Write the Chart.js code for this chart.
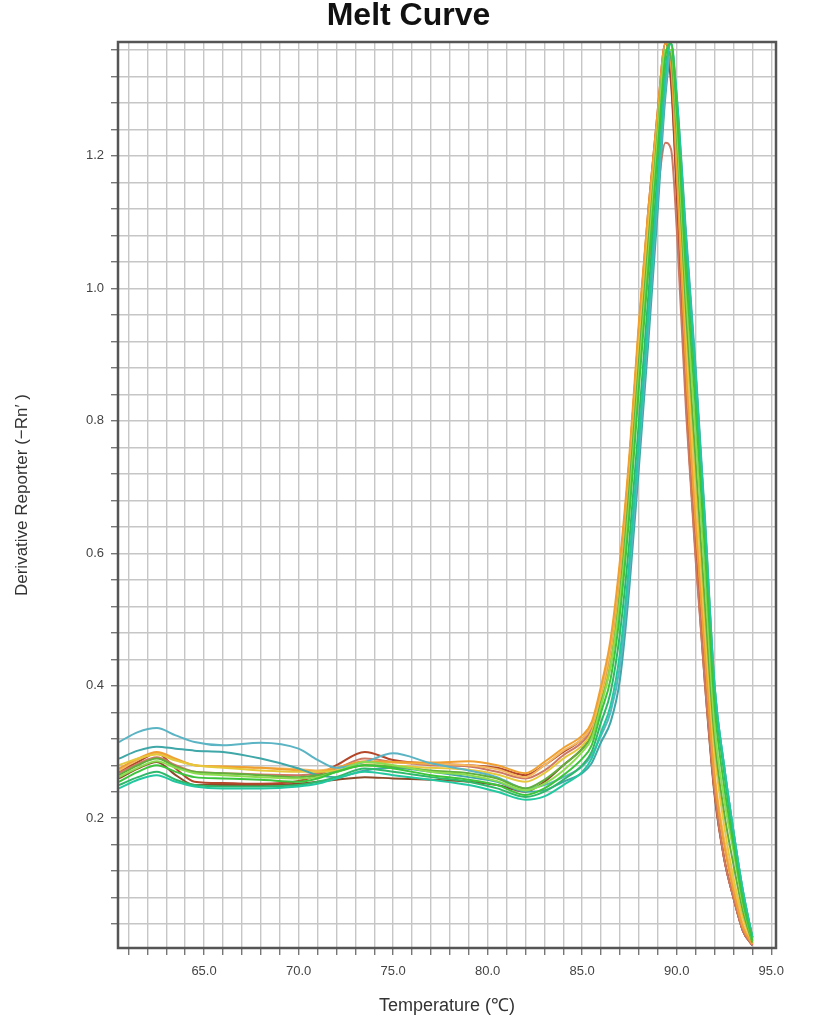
<!DOCTYPE html>
<html>
<head>
<meta charset="utf-8">
<script src="https://cdn.jsdelivr.net/npm/chart.js@4"></script>
<style>
  html, body { margin: 0; padding: 0; background: #fff; }
  #wrap { width: 817px; height: 1024px; }
</style>
</head>
<body>
<div id="wrap"><canvas id="melt" width="817" height="1024"></canvas></div>
<script>
// temperature points (°C)
const temps = [60.5, 61.5, 62.5, 63.5, 64.5, 66, 68, 70, 71, 72, 73.5, 75, 77, 79, 80.5, 82, 83, 84, 85, 85.5,
    86, 86.5, 87, 87.5, 88, 88.5, 89, 89.4, 89.7, 90, 90.5, 91, 91.5, 92, 92.5, 93, 93.5, 94];

// derivative reporter per well
const green = [0.255, 0.27, 0.28, 0.27, 0.262, 0.26, 0.258, 0.255, 0.26, 0.27, 0.28, 0.275, 0.265, 0.258, 0.25, 0.235, 0.245, 0.265, 0.29, 0.31,
    0.36, 0.41, 0.51, 0.66, 0.85, 1.03, 1.21, 1.35, 1.37, 1.27, 1.02, 0.82, 0.60, 0.37, 0.25, 0.16, 0.075, 0.015];
const seaGreen = [0.245, 0.258, 0.265, 0.255, 0.248, 0.245, 0.245, 0.248, 0.252, 0.26, 0.27, 0.265, 0.258, 0.25, 0.24, 0.228, 0.233, 0.25, 0.27, 0.29,
    0.33, 0.37, 0.45, 0.59, 0.77, 0.96, 1.16, 1.32, 1.37, 1.29, 1.07, 0.87, 0.64, 0.40, 0.28, 0.18, 0.09, 0.02];
const green2 = [0.25, 0.262, 0.27, 0.258, 0.25, 0.248, 0.248, 0.25, 0.255, 0.262, 0.275, 0.27, 0.262, 0.255, 0.245, 0.232, 0.24, 0.258, 0.28, 0.30,
    0.345, 0.39, 0.48, 0.62, 0.80, 0.99, 1.18, 1.33, 1.37, 1.28, 1.05, 0.85, 0.62, 0.39, 0.27, 0.17, 0.085, 0.02];
const lightGreen = [0.262, 0.276, 0.286, 0.276, 0.268, 0.265, 0.262, 0.26, 0.262, 0.27, 0.285, 0.28, 0.27, 0.265, 0.256, 0.242, 0.252, 0.272, 0.30, 0.32,
    0.37, 0.43, 0.53, 0.68, 0.87, 1.05, 1.23, 1.36, 1.36, 1.25, 0.99, 0.78, 0.56, 0.34, 0.23, 0.15, 0.07, 0.015];
const oliveGreen = [0.265, 0.28, 0.29, 0.278, 0.27, 0.268, 0.265, 0.262, 0.265, 0.27, 0.28, 0.278, 0.272, 0.268, 0.26, 0.245, 0.258, 0.28, 0.305, 0.325,
    0.375, 0.43, 0.54, 0.70, 0.89, 1.07, 1.24, 1.36, 1.35, 1.23, 0.96, 0.74, 0.52, 0.32, 0.21, 0.13, 0.06, 0.012];
const cyanHigh = [0.315, 0.33, 0.336, 0.325, 0.315, 0.31, 0.314, 0.305, 0.288, 0.276, 0.285, 0.298, 0.283, 0.272, 0.262, 0.245, 0.25, 0.262, 0.278, 0.295,
    0.325, 0.36, 0.43, 0.57, 0.75, 0.94, 1.14, 1.30, 1.36, 1.27, 1.07, 0.87, 0.64, 0.40, 0.28, 0.18, 0.09, 0.02];
const teal = [0.29, 0.302, 0.308, 0.305, 0.302, 0.30, 0.29, 0.275, 0.265, 0.262, 0.272, 0.276, 0.27, 0.262, 0.255, 0.24, 0.242, 0.255, 0.268, 0.283,
    0.315, 0.345, 0.41, 0.55, 0.73, 0.92, 1.12, 1.29, 1.35, 1.29, 1.08, 0.88, 0.65, 0.40, 0.28, 0.18, 0.09, 0.02];
const yellow = [0.28, 0.29, 0.296, 0.287, 0.28, 0.276, 0.272, 0.27, 0.27, 0.272, 0.28, 0.279, 0.276, 0.273, 0.266, 0.255, 0.268, 0.29, 0.31, 0.33,
    0.38, 0.44, 0.55, 0.71, 0.91, 1.09, 1.25, 1.36, 1.36, 1.22, 0.93, 0.70, 0.49, 0.30, 0.19, 0.11, 0.05, 0.012];
const orange = [0.275, 0.29, 0.30, 0.29, 0.28, 0.278, 0.276, 0.272, 0.27, 0.276, 0.286, 0.285, 0.284, 0.286, 0.28, 0.268, 0.285, 0.306, 0.325, 0.345,
    0.40, 0.47, 0.59, 0.75, 0.95, 1.12, 1.27, 1.37, 1.34, 1.18, 0.87, 0.64, 0.44, 0.26, 0.16, 0.09, 0.035, 0.01];
const lightOrange = [0.272, 0.288, 0.298, 0.288, 0.28, 0.278, 0.276, 0.274, 0.272, 0.276, 0.284, 0.284, 0.282, 0.28, 0.274, 0.262, 0.28, 0.302, 0.32, 0.34,
    0.39, 0.46, 0.58, 0.74, 0.94, 1.11, 1.26, 1.36, 1.34, 1.19, 0.89, 0.66, 0.46, 0.27, 0.17, 0.10, 0.04, 0.01];
const pink = [0.268, 0.282, 0.292, 0.28, 0.27, 0.268, 0.266, 0.265, 0.268, 0.275, 0.29, 0.285, 0.28, 0.278, 0.27, 0.26, 0.272, 0.295, 0.315, 0.335,
    0.39, 0.45, 0.56, 0.71, 0.88, 1.03, 1.15, 1.22, 1.21, 1.09, 0.81, 0.59, 0.40, 0.24, 0.14, 0.08, 0.03, 0.008];
const brownRed = [0.27, 0.285, 0.298, 0.275, 0.255, 0.253, 0.252, 0.256, 0.265, 0.28, 0.30, 0.288, 0.282, 0.28, 0.276, 0.265, 0.28, 0.30, 0.32, 0.34,
    0.395, 0.46, 0.58, 0.74, 0.94, 1.12, 1.27, 1.37, 1.32, 1.15, 0.84, 0.61, 0.41, 0.24, 0.14, 0.08, 0.03, 0.008];
const darkBrown = [0.26, 0.275, 0.285, 0.265, 0.25, 0.25, 0.25, 0.252, 0.255, 0.258, 0.262, 0.26, 0.258, 0.255, 0.25, 0.24, 0.255, 0.28, 0.305, 0.325,
    0.38, 0.45, 0.57, 0.73, 0.93, 1.11, 1.26, 1.35, 1.31, 1.14, 0.83, 0.60, 0.40, 0.235, 0.14, 0.08, 0.03, 0.008];

const wells = [green, seaGreen, green2, lightGreen, oliveGreen, cyanHigh, teal, yellow, orange, lightOrange, pink, brownRed, darkBrown];
const wellColors = ["#3cc43c", "#24c8a0", "#2eb86a", "#8cdc50", "#62b03c", "#5ab4c4", "#3fa7a8",
    "#e6c83c", "#f0a030", "#f4b860", "#cc7864", "#b4462a", "#8c4a28"];

// frame round the plot area
const frame = {
    id: "frame",
    afterDraw(chart) {
        const { ctx, chartArea: a } = chart;
        ctx.save();
        ctx.strokeStyle = "#555";
        ctx.lineWidth = 2.5;
        ctx.strokeRect(a.left, a.top, a.right - a.left, a.bottom - a.top);
        ctx.restore();
    },
};

const isMultiple = (v, step) => Math.abs(v / step - Math.round(v / step)) < 1e-6;
const font = "Arial, Liberation Sans";

new Chart(document.getElementById("melt"), {
    type: "line",
    data: {
        datasets: wells.map((w, i) => ({
            data: w.map((v, j) => ({ x: temps[j], y: v })),
            borderColor: wellColors[i],
            borderWidth: 2,
            pointRadius: 0,
            cubicInterpolationMode: "monotone",
        })),
    },
    options: {
        responsive: false,
        animation: false,
        layout: { padding: 0 },
        plugins: {
            legend: { display: false },
            tooltip: { enabled: false },
            title: {
                display: true,
                text: "Melt Curve",
                color: "#111",
                font: { family: font, size: 32, weight: "bold", lineHeight: 1 },
                padding: { top: 0, bottom: 10 },
            },
        },
        scales: {
            x: {
                type: "linear",
                min: 60.45,
                max: 95.25,
                afterFit: (s) => { s.height = 76; },
                grid: { color: "#c6c6c6", lineWidth: 1.4, tickLength: 7, tickColor: "#777" },
                border: { display: false },
                ticks: {
                    stepSize: 1,
                    includeBounds: false,
                    autoSkip: false,
                    maxRotation: 0,
                    padding: 9,
                    color: "#444",
                    font: { family: font, size: 13 },
                    callback: (v) => (isMultiple(v, 5) ? v.toFixed(1) : ""),
                },
                title: {
                    display: true,
                    text: "Temperature (℃)",
                    color: "#333",
                    font: { family: font, size: 18 },
                    padding: { top: 0, bottom: 7 },
                },
            },
            y: {
                min: 0.004,
                max: 1.372,
                afterFit: (s) => { s.width = 118; },
                grid: { color: "#c6c6c6", lineWidth: 1.4, tickLength: 7, tickColor: "#777" },
                border: { display: false },
                ticks: {
                    stepSize: 0.04,
                    includeBounds: false,
                    autoSkip: false,
                    padding: 7,
                    color: "#444",
                    font: { family: font, size: 13 },
                    callback: (v) => (v > 0.1 && isMultiple(v, 0.2) ? v.toFixed(1) : ""),
                },
                title: {
                    display: true,
                    text: "Derivative Reporter (−Rn′ )",
                    color: "#333",
                    font: { family: font, size: 17 },
                    padding: { top: 12, bottom: 0 },
                },
            },
            // empty right-hand strip so the title stays centred on the page
            yRight: {
                position: "right",
                min: 0,
                max: 1,
                afterFit: (s) => { s.width = 41; },
                grid: { display: false },
                border: { display: false },
                ticks: { display: false },
            },
        },
    },
    plugins: [frame],
});
</script>
</body>
</html>
